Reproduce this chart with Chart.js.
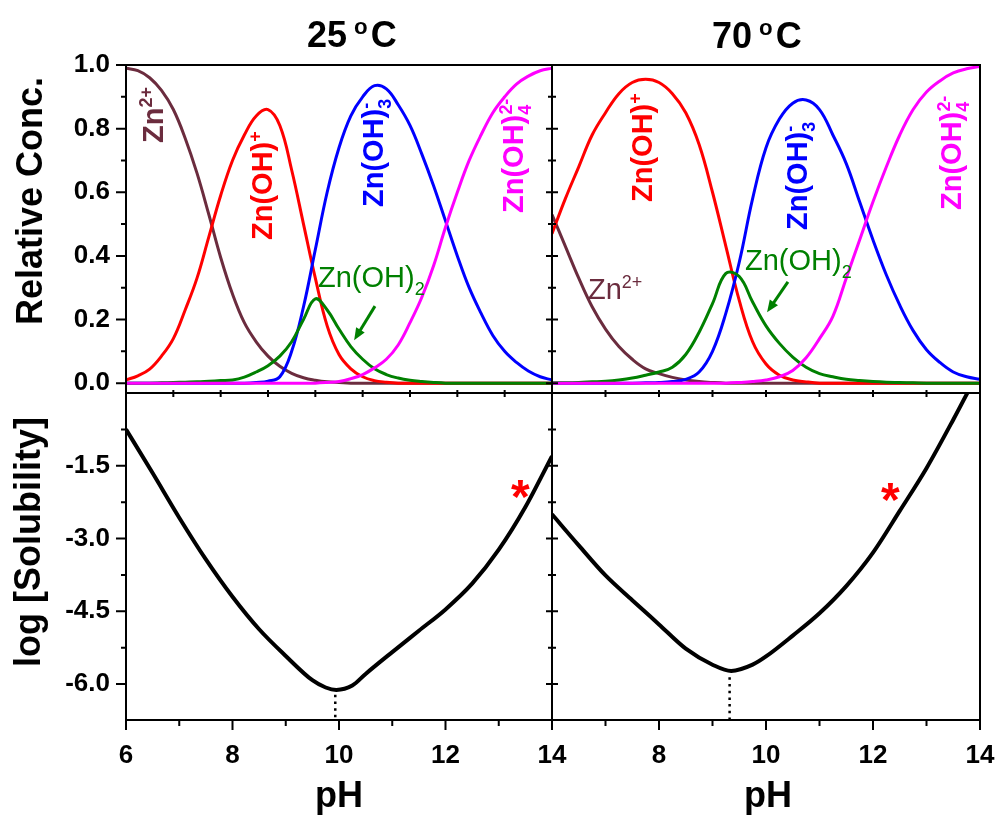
<!DOCTYPE html>
<html>
<head>
<meta charset="utf-8">
<script src="https://cdn.jsdelivr.net/npm/chart.js@4.4.1/dist/chart.umd.min.js"></script>
<style>
  html, body { margin: 0; padding: 0; background: #fff; }
  #page { position: relative; width: 1002px; height: 816px; overflow: hidden;
          font-family: 'Liberation Sans', Arial, sans-serif; color: #000; }
  #page canvas { position: absolute; left: 0; top: 0; }
  .lbl { position: absolute; white-space: nowrap; line-height: 1; }
  .rot { transform-origin: 0 0; transform: rotate(-90deg); }
  .b { font-weight: bold; }
  .sp { position: relative; top: -0.6em; font-size: 0.62em; }
  .sb { position: relative; top: 0.45em; font-size: 0.62em; }
</style>
</head>
<body>
<div id="page">
  <canvas id="tl" width="1002" height="816"></canvas>
  <canvas id="tr" width="1002" height="816"></canvas>
  <canvas id="bl" width="1002" height="816"></canvas>
  <canvas id="br" width="1002" height="816"></canvas>

  <!-- panel titles -->
  <div class="lbl b" style="left:307px; top:17px; font-size:36px">25<span class="sp" style="margin-left:7px">o</span><span style="margin-left:3px">C</span></div>
  <div class="lbl b" style="left:712px; top:18px; font-size:36px">70<span class="sp" style="margin-left:7px">o</span><span style="margin-left:3px">C</span></div>

  <!-- axis titles -->
  <div class="lbl b rot" style="left:12px; top:325px; font-size:36px">Relative Conc.</div>
  <div class="lbl b rot" style="left:10px; top:667px; font-size:36px">log [Solubility]</div>
  <div class="lbl b" style="left:339px; top:777px; font-size:36px; transform:translateX(-50%)">pH</div>
  <div class="lbl b" style="left:768px; top:777px; font-size:36px; transform:translateX(-50%)">pH</div>

  <!-- species labels, 25 C -->
  <div class="lbl b rot" style="left:139px; top:143px; font-size:29px; color:#6b2c3e">Zn<span class="sp">2+</span></div>
  <div class="lbl b rot" style="left:248px; top:240px; font-size:29px; color:#ff0000">Zn(OH)<span class="sp">+</span></div>
  <div class="lbl b rot" style="left:359px; top:207px; font-size:29px; color:#0000ff">Zn(OH)<span class="sb">3</span><span class="sp" style="margin-left:-0.55em">-</span></div>
  <div class="lbl b rot" style="left:499px; top:213px; font-size:29px; color:#ff00ff">Zn(OH)<span class="sb">4</span><span class="sp" style="margin-left:-0.55em">2-</span></div>
  <div class="lbl" style="left:318px; top:263px; font-size:29px; color:#008000">Zn(OH)<span class="sb">2</span></div>

  <!-- species labels, 70 C -->
  <div class="lbl b rot" style="left:628px; top:202px; font-size:29px; color:#ff0000">Zn(OH)<span class="sp">+</span></div>
  <div class="lbl b rot" style="left:783px; top:230px; font-size:29px; color:#0000ff">Zn(OH)<span class="sb">3</span><span class="sp" style="margin-left:-0.55em">-</span></div>
  <div class="lbl b rot" style="left:937px; top:210px; font-size:29px; color:#ff00ff">Zn(OH)<span class="sb">4</span><span class="sp" style="margin-left:-0.55em">2-</span></div>
  <div class="lbl" style="left:745px; top:246px; font-size:29px; color:#008000">Zn(OH)<span class="sb">2</span></div>
  <div class="lbl" style="left:588px; top:275px; font-size:29px; color:#6b2c3e">Zn<span class="sp">2+</span></div>

  <!-- asterisks -->
  <div class="lbl b" style="left:511px; top:473px; font-size:48px; color:#ff0000">*</div>
  <div class="lbl b" style="left:881px; top:476px; font-size:48px; color:#ff0000">*</div>
</div>

<script>
/* ------------------------------------------------------------------ */
/*  Data                                           */
/* ------------------------------------------------------------------ */

// 25 C speciation (this panel's pH axis runs 6 - 15)
const pH25 = [6.0, 6.25, 6.5, 6.75, 7.0, 7.25, 7.5, 7.75, 8.0, 8.25, 8.5, 8.75, 9.0, 9.25, 9.5, 9.75,
              10.0, 10.25, 10.5, 10.75, 11.0, 11.25, 11.5, 11.75, 12.0, 12.25, 12.5, 12.75, 13.0, 13.25,
              13.5, 13.75, 14.0, 14.25, 14.5, 14.75, 15.0];
const zn25    = [0.99, 0.982, 0.96, 0.92, 0.86, 0.77, 0.66, 0.53, 0.395, 0.28, 0.19, 0.13, 0.085, 0.053, 0.031, 0.017,
                 0.009, 0.004, 0.002, 0, 0, 0, 0, 0, 0, 0, 0, 0, 0, 0, 0, 0, 0, 0, 0, 0, 0];
const znoh25  = [0.01, 0.023, 0.044, 0.085, 0.14, 0.23, 0.33, 0.46, 0.59, 0.70, 0.78, 0.84, 0.86, 0.81, 0.67, 0.50,
                 0.33, 0.18, 0.09, 0.045, 0.02, 0.008, 0.003, 0, 0, 0, 0, 0, 0, 0, 0, 0, 0, 0, 0, 0, 0];
const znoh2_25 = [0, 0, 0, 0.001, 0.002, 0.003, 0.004, 0.006, 0.008, 0.01, 0.019, 0.035, 0.055, 0.085, 0.13, 0.2,
                  0.265, 0.23, 0.17, 0.115, 0.075, 0.045, 0.027, 0.016, 0.009, 0.005, 0.002, 0, 0, 0, 0, 0, 0, 0, 0, 0, 0];
const znoh3_25 = [0, 0, 0, 0, 0, 0, 0, 0, 0, 0, 0, 0.002, 0.006, 0.02, 0.1, 0.24,
                  0.42, 0.6, 0.74, 0.84, 0.90, 0.935, 0.925, 0.875, 0.81, 0.72, 0.62, 0.51, 0.40, 0.30,
                  0.22, 0.15, 0.10, 0.065, 0.038, 0.02, 0.01];
const znoh4_25 = [0, 0, 0, 0, 0, 0, 0, 0, 0, 0, 0, 0, 0, 0, 0, 0,
                  0, 0.002, 0.005, 0.014, 0.027, 0.048, 0.075, 0.12, 0.19, 0.27, 0.37, 0.49, 0.60, 0.70,
                  0.78, 0.85, 0.90, 0.94, 0.965, 0.982, 0.99];

// 70 C speciation (pH 6 - 14)
const pH70 = [6.0, 6.25, 6.5, 6.75, 7.0, 7.25, 7.5, 7.75, 8.0, 8.25, 8.5, 8.75, 9.0, 9.25, 9.5, 9.75,
              10.0, 10.25, 10.5, 10.75, 11.0, 11.25, 11.5, 11.75, 12.0, 12.25, 12.5, 12.75, 13.0, 13.25,
              13.5, 13.75, 14.0];
const zn70    = [0.53, 0.43, 0.33, 0.24, 0.17, 0.115, 0.075, 0.045, 0.03, 0.018, 0.01, 0.005, 0.002, 0, 0, 0,
                 0, 0, 0, 0, 0, 0, 0, 0, 0, 0, 0, 0, 0, 0, 0, 0, 0];
const znoh70  = [0.47, 0.58, 0.68, 0.78, 0.85, 0.91, 0.945, 0.955, 0.945, 0.91, 0.85, 0.75, 0.60, 0.43, 0.26, 0.13,
                 0.06, 0.025, 0.01, 0.004, 0, 0, 0, 0, 0, 0, 0, 0, 0, 0, 0, 0, 0];
const znoh2_70 = [0.001, 0.001, 0.002, 0.004, 0.006, 0.01, 0.016, 0.025, 0.035, 0.05, 0.09, 0.16, 0.25, 0.345, 0.335, 0.255,
                  0.18, 0.125, 0.082, 0.05, 0.03, 0.02, 0.012, 0.008, 0.005, 0.003, 0.002, 0.001, 0, 0, 0, 0, 0];
const znoh3_70 = [0, 0, 0, 0, 0, 0, 0, 0.001, 0.002, 0.005, 0.012, 0.035, 0.10, 0.22, 0.38, 0.58,
                  0.74, 0.83, 0.88, 0.89, 0.86, 0.78, 0.69, 0.57, 0.45, 0.34, 0.245, 0.165, 0.105, 0.065,
                  0.035, 0.02, 0.012];
const znoh4_70 = [0, 0, 0, 0, 0, 0, 0, 0, 0, 0, 0, 0, 0, 0, 0.002, 0.005,
                  0.01, 0.02, 0.04, 0.08, 0.14, 0.21, 0.33, 0.45, 0.57, 0.68, 0.78, 0.86, 0.915, 0.95,
                  0.975, 0.988, 0.995];

// log solubility curves
const pHSol25  = [6.0, 6.5, 7.0, 7.5, 8.0, 8.5, 9.0, 9.5, 9.75, 9.95, 10.25, 10.5, 11.0, 11.5, 12.0, 12.5, 13.0, 13.5, 14.0];
const logSol25 = [-0.75, -1.65, -2.57, -3.43, -4.2, -4.87, -5.42, -5.92, -6.07, -6.12, -6.03, -5.79, -5.34, -4.9, -4.46, -3.93, -3.23, -2.35, -1.3];
const pHSol70  = [6.0, 6.5, 7.0, 7.5, 8.0, 8.5, 9.0, 9.35, 9.75, 10.0, 10.5, 11.0, 11.5, 12.0, 12.5, 13.0, 13.5, 14.0];
const logSol70 = [-2.5, -3.14, -3.76, -4.27, -4.77, -5.27, -5.6, -5.73, -5.6, -5.43, -5.0, -4.54, -3.98, -3.29, -2.43, -1.55, -0.55, 0.5];

// dotted drop lines under each minimum
const dropX25 = [9.93, 9.93];
const dropY25 = [-6.22, -6.74];
const dropX70 = [9.32, 9.32];
const dropY70 = [-5.86, -6.74];

// tick values
const concMajor = [0, 0.2, 0.4, 0.6, 0.8, 1.0];
const concMinor = [0.1, 0.3, 0.5, 0.7, 0.9];
const solMajor = [-1.5, -3.0, -4.5, -6.0];
const solMinor = [-0.75, -2.25, -3.75, -5.25];
const pHMajor = [6, 8, 10, 12, 14];
const pHMinor = [7, 9, 11, 13];
const pHSteps25 = [7, 8, 9, 10, 11, 12, 13, 14];
const pHSteps70 = [7, 8, 9, 10, 11, 12, 13];

/* ------------------------------------------------------------------ */
/*  Colours                                                            */
/* ------------------------------------------------------------------ */

const MAROON = '#6b2c3e';
const RED = '#ff0000';
const BLUE = '#0000ff';
const MAGENTA = '#ff00ff';
const GREEN = '#008000';

const tickFont = { family: "'Liberation Sans', Arial, sans-serif", size: 26, weight: 'bold' };

/* ------------------------------------------------------------------ */
/*  Frame, tick marks and arrows (Origin style)                        */
/* ------------------------------------------------------------------ */

const frameTicks = {
    id: 'frameTicks',
    afterDatasetsDraw(chart, args, opts) {
        const ctx = chart.ctx;
        const a = chart.chartArea;
        ctx.save();
        ctx.strokeStyle = '#000';
        ctx.lineWidth = 2;
        ctx.strokeRect(a.left, a.top, a.right - a.left, a.bottom - a.top);

        for (const m of opts.marks || []) {
            const s = chart.scales[m.scale];
            ctx.beginPath();
            for (const v of m.values) {
                const p = s.getPixelForValue(v);
                if (m.scale === 'x') {
                    ctx.moveTo(p, a.bottom - m.inLen);
                    ctx.lineTo(p, a.bottom + m.outLen);
                } else {
                    ctx.moveTo(a.left - m.outLen, p);
                    ctx.lineTo(a.left + m.inLen, p);
                }
            }
            ctx.stroke();
        }

        for (const ar of opts.arrows || []) {
            const x0 = chart.scales.x.getPixelForValue(ar.from[0]);
            const y0 = chart.scales.y.getPixelForValue(ar.from[1]);
            const x1 = chart.scales.x.getPixelForValue(ar.to[0]);
            const y1 = chart.scales.y.getPixelForValue(ar.to[1]);
            const ang = Math.atan2(y1 - y0, x1 - x0);
            const head = 12, half = 5;
            ctx.strokeStyle = ar.color;
            ctx.fillStyle = ar.color;
            ctx.lineWidth = 3;
            ctx.beginPath();
            ctx.moveTo(x0, y0);
            ctx.lineTo(x1 - Math.cos(ang) * head * 0.8, y1 - Math.sin(ang) * head * 0.8);
            ctx.stroke();
            ctx.beginPath();
            ctx.moveTo(x1, y1);
            ctx.lineTo(x1 - Math.cos(ang) * head - Math.sin(ang) * half, y1 - Math.sin(ang) * head + Math.cos(ang) * half);
            ctx.lineTo(x1 - Math.cos(ang) * head + Math.sin(ang) * half, y1 - Math.sin(ang) * head - Math.cos(ang) * half);
            ctx.closePath();
            ctx.fill();
        }
        ctx.restore();
    }
};

/* ------------------------------------------------------------------ */
/*  Helpers                                                            */
/* ------------------------------------------------------------------ */

function line(xs, ys, color, width, extra) {
    return Object.assign({
        data: xs.map((x, i) => ({ x: x, y: ys[i] })),
        borderColor: color,
        borderWidth: width,
        pointRadius: 0,
        fill: false,
        tension: 0.4
    }, extra || {});
}

/**
 * Every panel is a full-page transparent canvas; layout padding plus
 * fixed axis box sizes put its plot area where the original has it.
 */
function panel(id, datasets, o) {
    return new Chart(document.getElementById(id), {
        type: 'line',
        data: { datasets: datasets },
        plugins: [frameTicks],
        options: {
            responsive: false,
            animation: false,
            events: [],
            layout: { padding: o.pad },
            plugins: {
                legend: { display: false },
                tooltip: { enabled: false },
                frameTicks: { marks: o.marks, arrows: o.arrows || [] }
            },
            scales: {
                x: {
                    type: 'linear',
                    min: o.xMin,
                    max: o.xMax,
                    display: !!o.xLabels,
                    grid: { display: false, drawTicks: false },
                    border: { display: false },
                    afterBuildTicks: s => { if (o.xLabels) s.ticks = o.xLabels.map(v => ({ value: v })); },
                    afterFit: s => {
                        if (o.xLabels) s.height = 70;
                        s.paddingLeft = 0;
                        s.paddingRight = 0;
                    },
                    ticks: { font: tickFont, color: '#000', padding: 20, autoSkip: false, maxRotation: 0 }
                },
                y: {
                    type: 'linear',
                    min: o.yMin,
                    max: o.yMax,
                    display: !!o.yLabels,
                    grid: { display: false, drawTicks: false },
                    border: { display: false },
                    afterBuildTicks: s => { if (o.yLabels) s.ticks = o.yLabels.map(v => ({ value: v })); },
                    afterFit: s => { if (o.yLabels) s.width = 126; },
                    ticks: { font: tickFont, color: '#000', padding: 16, callback: v => Number(v).toFixed(1) }
                }
            }
        }
    });
}

/* ------------------------------------------------------------------ */
/*  Panels                                                             */
/* ------------------------------------------------------------------ */

panel('tl', [
    line(pH25, znoh4_25, MAGENTA, 3),
    line(pH25, znoh2_25, GREEN, 3),
    line(pH25, znoh3_25, BLUE, 3),
    line(pH25, znoh25, RED, 3),
    line(pH25, zn25, MAROON, 3)
], {
    pad: { left: 0, right: 450, top: 65, bottom: 423 },
    xMin: 6, xMax: 15, yMin: -0.031, yMax: 1.0,
    yLabels: concMajor,
    marks: [
        { scale: 'y', values: concMajor, outLen: 10, inLen: 0 },
        { scale: 'y', values: concMinor, outLen: 5, inLen: 0 },
        { scale: 'x', values: pHSteps25, outLen: 4, inLen: 3 }
    ],
    arrows: [{ from: [11.26, 0.242], to: [10.82, 0.135], color: GREEN }]
});

panel('tr', [
    line(pH70, znoh4_70, MAGENTA, 3),
    line(pH70, znoh2_70, GREEN, 3),
    line(pH70, znoh3_70, BLUE, 3),
    line(pH70, znoh70, RED, 3),
    line(pH70, zn70, MAROON, 3)
], {
    pad: { left: 552, right: 22, top: 65, bottom: 423 },
    xMin: 6, xMax: 14, yMin: -0.031, yMax: 1.0,
    marks: [
        { scale: 'y', values: concMajor, outLen: 6, inLen: 6 },
        { scale: 'y', values: concMinor, outLen: 4, inLen: 4 },
        { scale: 'x', values: pHSteps70, outLen: 4, inLen: 3 }
    ],
    arrows: [{ from: [10.41, 0.318], to: [10.02, 0.223], color: GREEN }]
});

panel('bl', [
    line(pHSol25, logSol25, '#000', 4, { cubicInterpolationMode: 'monotone' }),
    line(dropX25, dropY25, '#000', 2.5, { borderDash: [2.5, 4.2], tension: 0 })
], {
    pad: { left: 0, right: 450, top: 393, bottom: 26 },
    xMin: 6, xMax: 14, yMin: -6.74, yMax: 0,
    xLabels: pHMajor, yLabels: solMajor,
    marks: [
        { scale: 'y', values: solMajor, outLen: 10, inLen: 0 },
        { scale: 'y', values: solMinor, outLen: 5, inLen: 0 },
        { scale: 'x', values: pHMajor, outLen: 10, inLen: 0 },
        { scale: 'x', values: pHMinor, outLen: 6, inLen: 0 }
    ]
});

panel('br', [
    line(pHSol70, logSol70, '#000', 4, { cubicInterpolationMode: 'monotone', clip: 0 }),
    line(dropX70, dropY70, '#000', 2.5, { borderDash: [2.5, 4.2], tension: 0 })
], {
    pad: { left: 552, right: 22, top: 393, bottom: 26 },
    xMin: 6, xMax: 14, yMin: -6.74, yMax: 0,
    xLabels: [8, 10, 12, 14],
    marks: [
        { scale: 'y', values: solMajor, outLen: 6, inLen: 6 },
        { scale: 'y', values: solMinor, outLen: 4, inLen: 4 },
        { scale: 'x', values: pHMajor, outLen: 10, inLen: 0 },
        { scale: 'x', values: pHMinor, outLen: 6, inLen: 0 }
    ]
});
</script>
</body>
</html>
